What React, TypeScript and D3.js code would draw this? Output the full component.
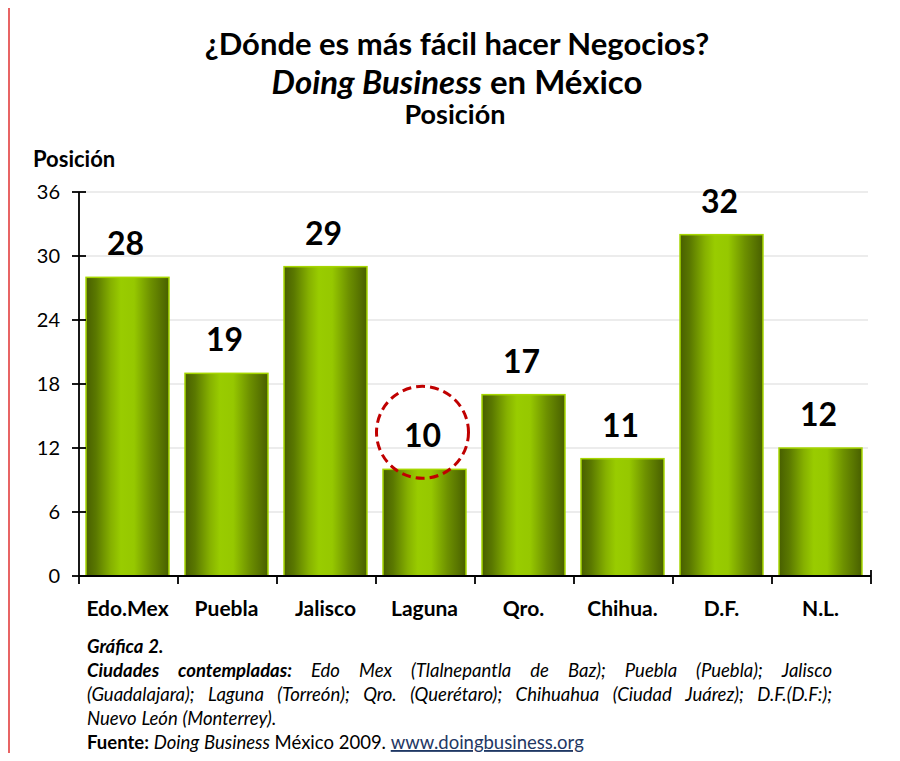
import React from "react";
import * as d3 from "d3";

const categories = ["Edo.Mex", "Puebla", "Jalisco", "Laguna", "Qro.", "Chihua.", "D.F.", "N.L."];
const values = [28, 19, 29, 10, 17, 11, 32, 12];
const yTicks = [0, 6, 12, 18, 24, 30, 36];
const highlighted = "Laguna";

const titleLine1 = "¿Dónde es más fácil hacer Negocios?";
const titleLine2Italic = "Doing Business";
const titleLine2Rest = " en México";
const subtitle = "Posición";
const yAxisTitle = "Posición";

type Tok = { t: string; w: number; s: string; fill?: string; u?: boolean };

const footerLines: { toks: Tok[]; justify: boolean }[] = [
  { toks: [{ t: "Gráfica 2.", w: 700, s: "italic" }], justify: false },
  {
    toks: [
      { t: "Ciudades contempladas:", w: 700, s: "italic" },
      { t: "Edo Mex (Tlalnepantla de Baz); Puebla (Puebla); Jalisco", w: 400, s: "italic" },
    ],
    justify: true,
  },
  {
    toks: [{ t: "(Guadalajara); Laguna (Torreón); Qro. (Querétaro); Chihuahua (Ciudad Juárez); D.F.(D.F:);", w: 400, s: "italic" }],
    justify: true,
  },
  { toks: [{ t: "Nuevo León (Monterrey).", w: 400, s: "italic" }], justify: false },
  {
    toks: [
      { t: "Fuente:", w: 700, s: "normal" },
      { t: "Doing Business", w: 400, s: "italic" },
      { t: "México 2009.", w: 400, s: "normal" },
      { t: "www.doingbusiness.org", w: 400, s: "normal", fill: "#1f3864", u: true },
    ],
    justify: false,
  },
];

const FONT = "Lato, 'Open Sans', sans-serif";

let ctx: CanvasRenderingContext2D | null = null;
function measure(text: string, size: number, weight: number, style: string) {
  if (!ctx) ctx = document.createElement("canvas").getContext("2d");
  if (!ctx) return text.length * size * 0.5;
  ctx.font = `${style} ${weight} ${size}px Lato`;
  return ctx.measureText(text).width;
}

function FooterLine({ toks, justify, x, y, width, size }: { toks: Tok[]; justify: boolean; x: number; y: number; width: number; size: number }) {
  const words: { text: string; tok: Tok; w: number }[] = [];
  toks.forEach((tok) => {
    tok.t.split(" ").forEach((wd) => {
      if (wd.length) words.push({ text: wd, tok, w: measure(wd, size, tok.w, tok.s) });
    });
  });
  const spaceW = measure(" ", size, 400, "normal");
  const total = d3.sum(words, (d) => d.w);
  const gap = justify && words.length > 1 ? (width - total) / (words.length - 1) : spaceW;
  let cx = x;
  const out: React.ReactNode[] = [];
  words.forEach((wd, i) => {
    out.push(
      <text
        key={i}
        x={cx}
        y={y}
        fontFamily={FONT}
        fontSize={size}
        fontWeight={wd.tok.w}
        fontStyle={wd.tok.s}
        fill={wd.tok.fill || "#000"}
        textDecoration={wd.tok.u ? "underline" : undefined}
      >
        {wd.text}
      </text>
    );
    cx += wd.w + gap;
  });
  return <g>{out}</g>;
}

export default function App() {
  const W = 900;
  const H = 761;
  const x0 = 79;
  const x1 = 871;
  const yBase = 576;
  const yTop = 192;

  const x = d3.scaleBand<string>().domain(categories).range([x0 - 1, x1 - 1]).paddingInner(0.162).paddingOuter(0.081);
  const y = d3.scaleLinear().domain([0, 36]).range([yBase, yTop]);
  const step = (x1 - x0) / categories.length;

  const hiIdx = categories.indexOf(highlighted);
  const hiCx = (x(highlighted) as number) + x.bandwidth() / 2 - 2;
  const hiCy = y(values[hiIdx]) - 37;

  return (
    <div style={{ margin: -8, width: W, height: H, background: "#fff" }}>
      <svg width={W} height={H} style={{ display: "block" }}>
        <defs>
          <linearGradient id="barGrad" x1="0" x2="1" y1="0" y2="0">
            <stop offset="0%" stopColor="#485f00" />
            <stop offset="12%" stopColor="#5a7800" />
            <stop offset="30%" stopColor="#86b100" />
            <stop offset="42%" stopColor="#99cc00" />
            <stop offset="58%" stopColor="#96c800" />
            <stop offset="78%" stopColor="#6d9000" />
            <stop offset="100%" stopColor="#485f00" />
          </linearGradient>
        </defs>
        <rect x={0} y={0} width={W} height={H} fill="#fff" />
        {/* frame */}
        <line x1={9} x2={9} y1={4} y2={H} stroke="#e03030" strokeWidth={1.5} />
        <line x1={9} x2={W} y1={4.5} y2={4.5} stroke="#e00000" strokeWidth={1.5} />

        {/* titles */}
        <text x={457} y={55} textAnchor="middle" fontFamily={FONT} fontWeight={700} fontSize={31}>
          {titleLine1}
        </text>
        <text x={457} y={94} textAnchor="middle" fontFamily={FONT} fontWeight={700} fontSize={33}>
          <tspan fontStyle="italic">{titleLine2Italic}</tspan>
          <tspan>{titleLine2Rest}</tspan>
        </text>
        <text x={455} y={124} textAnchor="middle" fontFamily={FONT} fontWeight={700} fontSize={27}>
          {subtitle}
        </text>
        <text x={33} y={167} fontFamily={FONT} fontWeight={700} fontSize={22}>
          {yAxisTitle}
        </text>

        {/* gridlines */}
        {yTicks
          .filter((t) => t > 0)
          .map((t) => (
            <line key={t} x1={x0} x2={868} y1={y(t)} y2={y(t)} stroke="#d9d9d9" strokeWidth={1} />
          ))}

        {/* bars */}
        {categories.map((c, i) => {
          const bx = x(c) as number;
          const by = y(values[i]);
          return (
            <g key={c}>
              <rect
                x={bx}
                y={by}
                width={x.bandwidth()}
                height={yBase - by}
                fill="url(#barGrad)"
                stroke="#a6d600"
                strokeWidth={1.5}
              />
              <text
                x={bx + x.bandwidth() / 2 - 2}
                y={by - 22}
                textAnchor="middle"
                fontFamily={FONT}
                fontWeight={700}
                fontSize={32}
              >
                {values[i]}
              </text>
              <text x={bx + x.bandwidth() / 2} y={616} textAnchor="middle" fontFamily={FONT} fontWeight={700} fontSize={21}>
                {c}
              </text>
            </g>
          );
        })}

        {/* axes */}
        <line x1={x0} x2={x0} y1={yTop} y2={584} stroke="#000" strokeWidth={1.8} />
        <line x1={x0} x2={x1} y1={yBase} y2={yBase} stroke="#000" strokeWidth={1.8} />
        {yTicks.map((t) => (
          <g key={t}>
            <line x1={72} x2={86} y1={y(t)} y2={y(t)} stroke="#000" strokeWidth={1.8} />
            <text x={60} y={y(t) + 7} textAnchor="end" fontFamily={FONT} fontSize={20}>
              {t}
            </text>
          </g>
        ))}
        {categories.map((c, i) => {
          const tx = x0 + step * (i + 1);
          return <line key={c} x1={tx} x2={tx} y1={i === categories.length - 1 ? 570 : yBase} y2={584} stroke="#000" strokeWidth={1.8} />;
        })}

        {/* highlight circle */}
        <circle cx={hiCx} cy={hiCy} r={46} fill="none" stroke="#c00000" strokeWidth={3} strokeDasharray="9 5" />

        {/* footer */}
        {footerLines.map((l, i) => (
          <FooterLine key={i} toks={l.toks} justify={l.justify} x={87} y={653 + i * 24} width={745} size={18.5} />
        ))}
      </svg>
    </div>
  );
}
